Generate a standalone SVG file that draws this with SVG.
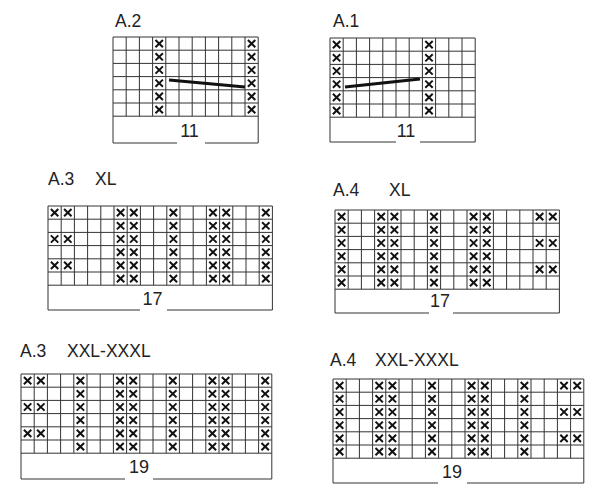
<svg xmlns="http://www.w3.org/2000/svg" xmlns:xlink="http://www.w3.org/1999/xlink" width="600" height="498" viewBox="0 0 600 498">
<style>
.g{fill:none;stroke:#333;stroke-width:1}
.t{font-family:"Liberation Sans",Arial,sans-serif;font-size:17.5px;fill:#222}
.n{font-family:"Liberation Sans",Arial,sans-serif;font-size:18px;fill:#222;text-anchor:middle}
.ln{stroke:#111;stroke-width:3;stroke-linecap:butt}
</style>
<defs>
<path id="x" d="M-3.7,-3.6L3.7,3.6M3.7,-3.6L-3.7,3.6" fill="none" stroke="#111" stroke-width="2"/>
</defs>
<rect width="600" height="498" fill="#fff"/>

<!-- A.2 -->
<g id="a2">
<text class="t" x="115" y="27">A.2</text>
<g transform="translate(113,37)">
<path class="g" d="M0,0H145.2M0,13.2H145.2M0,26.4H145.2M0,39.6H145.2M0,52.8H145.2M0,66H145.2M0,79.2H145.2
M0,0V106H64M92,106H145.2V0M13.2,0V79.2M26.4,0V79.2M39.6,0V79.2M52.8,0V79.2M66,0V79.2M79.2,0V79.2M92.4,0V79.2M105.6,0V79.2M118.8,0V79.2M132,0V79.2"/>
<g>
<use href="#x" x="46.2" y="6.6"/><use href="#x" x="46.2" y="19.8"/><use href="#x" x="46.2" y="33"/><use href="#x" x="46.2" y="46.2"/><use href="#x" x="46.2" y="59.4"/><use href="#x" x="46.2" y="72.6"/>
<use href="#x" x="138.6" y="6.6"/><use href="#x" x="138.6" y="19.8"/><use href="#x" x="138.6" y="33"/><use href="#x" x="138.6" y="46.2"/><use href="#x" x="138.6" y="59.4"/><use href="#x" x="138.6" y="72.6"/>
</g>
<line class="ln" x1="56" y1="43" x2="132" y2="50"/>
<text class="n" x="76.5" y="100">11</text>
</g>
</g>

<!-- A.1 -->
<g id="a1">
<text class="t" x="333" y="27">A.1</text>
<g transform="translate(330,38)">
<path class="g" d="M0,0H145.2M0,13.2H145.2M0,26.4H145.2M0,39.6H145.2M0,52.8H145.2M0,66H145.2M0,79.2H145.2
M0,0V104H66M90,104H145.2V0M13.2,0V79.2M26.4,0V79.2M39.6,0V79.2M52.8,0V79.2M66,0V79.2M79.2,0V79.2M92.4,0V79.2M105.6,0V79.2M118.8,0V79.2M132,0V79.2"/>
<g>
<use href="#x" x="6.6" y="6.6"/><use href="#x" x="6.6" y="19.8"/><use href="#x" x="6.6" y="33"/><use href="#x" x="6.6" y="46.2"/><use href="#x" x="6.6" y="59.4"/><use href="#x" x="6.6" y="72.6"/>
<use href="#x" x="99" y="6.6"/><use href="#x" x="99" y="19.8"/><use href="#x" x="99" y="33"/><use href="#x" x="99" y="46.2"/><use href="#x" x="99" y="59.4"/><use href="#x" x="99" y="72.6"/>
</g>
<line class="ln" x1="15" y1="49" x2="90" y2="41"/>
<text class="n" x="76" y="99">11</text>
</g>
</g>

<!-- A.3 XL -->
<g id="a3xl">
<text class="t" y="185"><tspan x="48">A.3</tspan><tspan x="95">XL</tspan></text>
<g transform="translate(48,206)">
<path class="g" d="M0,0H224.4M0,13.2H224.4M0,26.4H224.4M0,39.6H224.4M0,52.8H224.4M0,66H224.4M0,79.2H224.4
M0,0V104H92M119,104H224.4V0M13.2,0V79.2M26.4,0V79.2M39.6,0V79.2M52.8,0V79.2M66,0V79.2M79.2,0V79.2M92.4,0V79.2M105.6,0V79.2M118.8,0V79.2M132,0V79.2M145.2,0V79.2M158.4,0V79.2M171.6,0V79.2M184.8,0V79.2M198,0V79.2M211.2,0V79.2"/>
<g>
<use href="#x" x="6.6" y="6.6"/><use href="#x" x="19.8" y="6.6"/>
<use href="#x" x="6.6" y="33"/><use href="#x" x="19.8" y="33"/>
<use href="#x" x="6.6" y="59.4"/><use href="#x" x="19.8" y="59.4"/>
</g>
<g>
<use href="#x" x="72.6" y="6.6"/><use href="#x" x="72.6" y="19.8"/><use href="#x" x="72.6" y="33"/><use href="#x" x="72.6" y="46.2"/><use href="#x" x="72.6" y="59.4"/><use href="#x" x="72.6" y="72.6"/>
<use href="#x" x="85.8" y="6.6"/><use href="#x" x="85.8" y="19.8"/><use href="#x" x="85.8" y="33"/><use href="#x" x="85.8" y="46.2"/><use href="#x" x="85.8" y="59.4"/><use href="#x" x="85.8" y="72.6"/>
<use href="#x" x="125.4" y="6.6"/><use href="#x" x="125.4" y="19.8"/><use href="#x" x="125.4" y="33"/><use href="#x" x="125.4" y="46.2"/><use href="#x" x="125.4" y="59.4"/><use href="#x" x="125.4" y="72.6"/>
<use href="#x" x="165" y="6.6"/><use href="#x" x="165" y="19.8"/><use href="#x" x="165" y="33"/><use href="#x" x="165" y="46.2"/><use href="#x" x="165" y="59.4"/><use href="#x" x="165" y="72.6"/>
<use href="#x" x="178.2" y="6.6"/><use href="#x" x="178.2" y="19.8"/><use href="#x" x="178.2" y="33"/><use href="#x" x="178.2" y="46.2"/><use href="#x" x="178.2" y="59.4"/><use href="#x" x="178.2" y="72.6"/>
<use href="#x" x="217.8" y="6.6"/><use href="#x" x="217.8" y="19.8"/><use href="#x" x="217.8" y="33"/><use href="#x" x="217.8" y="46.2"/><use href="#x" x="217.8" y="59.4"/><use href="#x" x="217.8" y="72.6"/>
</g>
<text class="n" x="104.5" y="99">17</text>
</g>
</g>

<!-- A.4 XL -->
<g id="a4xl">
<text class="t" y="196"><tspan x="333">A.4</tspan><tspan x="389">XL</tspan></text>
<g transform="translate(335,210)">
<path class="g" d="M0,0H224.4M0,13.2H224.4M0,26.4H224.4M0,39.6H224.4M0,52.8H224.4M0,66H224.4M0,79.2H224.4
M0,0V103H94M118,103H224.4V0M13.2,0V79.2M26.4,0V79.2M39.6,0V79.2M52.8,0V79.2M66,0V79.2M79.2,0V79.2M92.4,0V79.2M105.6,0V79.2M118.8,0V79.2M132,0V79.2M145.2,0V79.2M158.4,0V79.2M171.6,0V79.2M184.8,0V79.2M198,0V79.2M211.2,0V79.2"/>
<g>
<use href="#x" x="6.6" y="6.6"/><use href="#x" x="6.6" y="19.8"/><use href="#x" x="6.6" y="33"/><use href="#x" x="6.6" y="46.2"/><use href="#x" x="6.6" y="59.4"/><use href="#x" x="6.6" y="72.6"/>
<use href="#x" x="46.2" y="6.6"/><use href="#x" x="46.2" y="19.8"/><use href="#x" x="46.2" y="33"/><use href="#x" x="46.2" y="46.2"/><use href="#x" x="46.2" y="59.4"/><use href="#x" x="46.2" y="72.6"/>
<use href="#x" x="59.4" y="6.6"/><use href="#x" x="59.4" y="19.8"/><use href="#x" x="59.4" y="33"/><use href="#x" x="59.4" y="46.2"/><use href="#x" x="59.4" y="59.4"/><use href="#x" x="59.4" y="72.6"/>
<use href="#x" x="99" y="6.6"/><use href="#x" x="99" y="19.8"/><use href="#x" x="99" y="33"/><use href="#x" x="99" y="46.2"/><use href="#x" x="99" y="59.4"/><use href="#x" x="99" y="72.6"/>
<use href="#x" x="138.6" y="6.6"/><use href="#x" x="138.6" y="19.8"/><use href="#x" x="138.6" y="33"/><use href="#x" x="138.6" y="46.2"/><use href="#x" x="138.6" y="59.4"/><use href="#x" x="138.6" y="72.6"/>
<use href="#x" x="151.8" y="6.6"/><use href="#x" x="151.8" y="19.8"/><use href="#x" x="151.8" y="33"/><use href="#x" x="151.8" y="46.2"/><use href="#x" x="151.8" y="59.4"/><use href="#x" x="151.8" y="72.6"/>
</g>
<g>
<use href="#x" x="204.6" y="6.6"/><use href="#x" x="217.8" y="6.6"/>
<use href="#x" x="204.6" y="33"/><use href="#x" x="217.8" y="33"/>
<use href="#x" x="204.6" y="59.4"/><use href="#x" x="217.8" y="59.4"/>
</g>
<text class="n" x="105" y="97">17</text>
</g>
</g>

<!-- A.3 XXL-XXXL -->
<g id="a3xxl">
<text class="t" y="357"><tspan x="20">A.3</tspan><tspan x="67">XXL-XXXL</tspan></text>
<g transform="translate(21,374)">
<path class="g" d="M0,0H250.8M0,13.2H250.8M0,26.4H250.8M0,39.6H250.8M0,52.8H250.8M0,66H250.8M0,79.2H250.8
M0,0V105H104M132,105H250.8V0M13.2,0V79.2M26.4,0V79.2M39.6,0V79.2M52.8,0V79.2M66,0V79.2M79.2,0V79.2M92.4,0V79.2M105.6,0V79.2M118.8,0V79.2M132,0V79.2M145.2,0V79.2M158.4,0V79.2M171.6,0V79.2M184.8,0V79.2M198,0V79.2M211.2,0V79.2M224.4,0V79.2M237.6,0V79.2"/>
<g>
<use href="#x" x="6.6" y="6.6"/><use href="#x" x="19.8" y="6.6"/>
<use href="#x" x="6.6" y="33"/><use href="#x" x="19.8" y="33"/>
<use href="#x" x="6.6" y="59.4"/><use href="#x" x="19.8" y="59.4"/>
</g>
<g>
<use href="#x" x="59.4" y="6.6"/><use href="#x" x="59.4" y="19.8"/><use href="#x" x="59.4" y="33"/><use href="#x" x="59.4" y="46.2"/><use href="#x" x="59.4" y="59.4"/><use href="#x" x="59.4" y="72.6"/>
<use href="#x" x="99" y="6.6"/><use href="#x" x="99" y="19.8"/><use href="#x" x="99" y="33"/><use href="#x" x="99" y="46.2"/><use href="#x" x="99" y="59.4"/><use href="#x" x="99" y="72.6"/>
<use href="#x" x="112.2" y="6.6"/><use href="#x" x="112.2" y="19.8"/><use href="#x" x="112.2" y="33"/><use href="#x" x="112.2" y="46.2"/><use href="#x" x="112.2" y="59.4"/><use href="#x" x="112.2" y="72.6"/>
<use href="#x" x="151.8" y="6.6"/><use href="#x" x="151.8" y="19.8"/><use href="#x" x="151.8" y="33"/><use href="#x" x="151.8" y="46.2"/><use href="#x" x="151.8" y="59.4"/><use href="#x" x="151.8" y="72.6"/>
<use href="#x" x="191.4" y="6.6"/><use href="#x" x="191.4" y="19.8"/><use href="#x" x="191.4" y="33"/><use href="#x" x="191.4" y="46.2"/><use href="#x" x="191.4" y="59.4"/><use href="#x" x="191.4" y="72.6"/>
<use href="#x" x="204.6" y="6.6"/><use href="#x" x="204.6" y="19.8"/><use href="#x" x="204.6" y="33"/><use href="#x" x="204.6" y="46.2"/><use href="#x" x="204.6" y="59.4"/><use href="#x" x="204.6" y="72.6"/>
<use href="#x" x="244.2" y="6.6"/><use href="#x" x="244.2" y="19.8"/><use href="#x" x="244.2" y="33"/><use href="#x" x="244.2" y="46.2"/><use href="#x" x="244.2" y="59.4"/><use href="#x" x="244.2" y="72.6"/>
</g>
<text class="n" x="118" y="99">19</text>
</g>
</g>

<!-- A.4 XXL-XXXL -->
<g id="a4xxl">
<text class="t" y="366"><tspan x="330">A.4</tspan><tspan x="375">XXL-XXXL</tspan></text>
<g transform="translate(333,379)">
<path class="g" d="M0,0H250.8M0,13.2H250.8M0,26.4H250.8M0,39.6H250.8M0,52.8H250.8M0,66H250.8M0,79.2H250.8
M0,0V104H105M134,104H250.8V0M13.2,0V79.2M26.4,0V79.2M39.6,0V79.2M52.8,0V79.2M66,0V79.2M79.2,0V79.2M92.4,0V79.2M105.6,0V79.2M118.8,0V79.2M132,0V79.2M145.2,0V79.2M158.4,0V79.2M171.6,0V79.2M184.8,0V79.2M198,0V79.2M211.2,0V79.2M224.4,0V79.2M237.6,0V79.2"/>
<g>
<use href="#x" x="6.6" y="6.6"/><use href="#x" x="6.6" y="19.8"/><use href="#x" x="6.6" y="33"/><use href="#x" x="6.6" y="46.2"/><use href="#x" x="6.6" y="59.4"/><use href="#x" x="6.6" y="72.6"/>
<use href="#x" x="46.2" y="6.6"/><use href="#x" x="46.2" y="19.8"/><use href="#x" x="46.2" y="33"/><use href="#x" x="46.2" y="46.2"/><use href="#x" x="46.2" y="59.4"/><use href="#x" x="46.2" y="72.6"/>
<use href="#x" x="59.4" y="6.6"/><use href="#x" x="59.4" y="19.8"/><use href="#x" x="59.4" y="33"/><use href="#x" x="59.4" y="46.2"/><use href="#x" x="59.4" y="59.4"/><use href="#x" x="59.4" y="72.6"/>
<use href="#x" x="99" y="6.6"/><use href="#x" x="99" y="19.8"/><use href="#x" x="99" y="33"/><use href="#x" x="99" y="46.2"/><use href="#x" x="99" y="59.4"/><use href="#x" x="99" y="72.6"/>
<use href="#x" x="138.6" y="6.6"/><use href="#x" x="138.6" y="19.8"/><use href="#x" x="138.6" y="33"/><use href="#x" x="138.6" y="46.2"/><use href="#x" x="138.6" y="59.4"/><use href="#x" x="138.6" y="72.6"/>
<use href="#x" x="151.8" y="6.6"/><use href="#x" x="151.8" y="19.8"/><use href="#x" x="151.8" y="33"/><use href="#x" x="151.8" y="46.2"/><use href="#x" x="151.8" y="59.4"/><use href="#x" x="151.8" y="72.6"/>
<use href="#x" x="191.4" y="6.6"/><use href="#x" x="191.4" y="19.8"/><use href="#x" x="191.4" y="33"/><use href="#x" x="191.4" y="46.2"/><use href="#x" x="191.4" y="59.4"/><use href="#x" x="191.4" y="72.6"/>
</g>
<g>
<use href="#x" x="231" y="6.6"/><use href="#x" x="244.2" y="6.6"/>
<use href="#x" x="231" y="33"/><use href="#x" x="244.2" y="33"/>
<use href="#x" x="231" y="59.4"/><use href="#x" x="244.2" y="59.4"/>
</g>
<text class="n" x="119" y="99">19</text>
</g>
</g>
</svg>
